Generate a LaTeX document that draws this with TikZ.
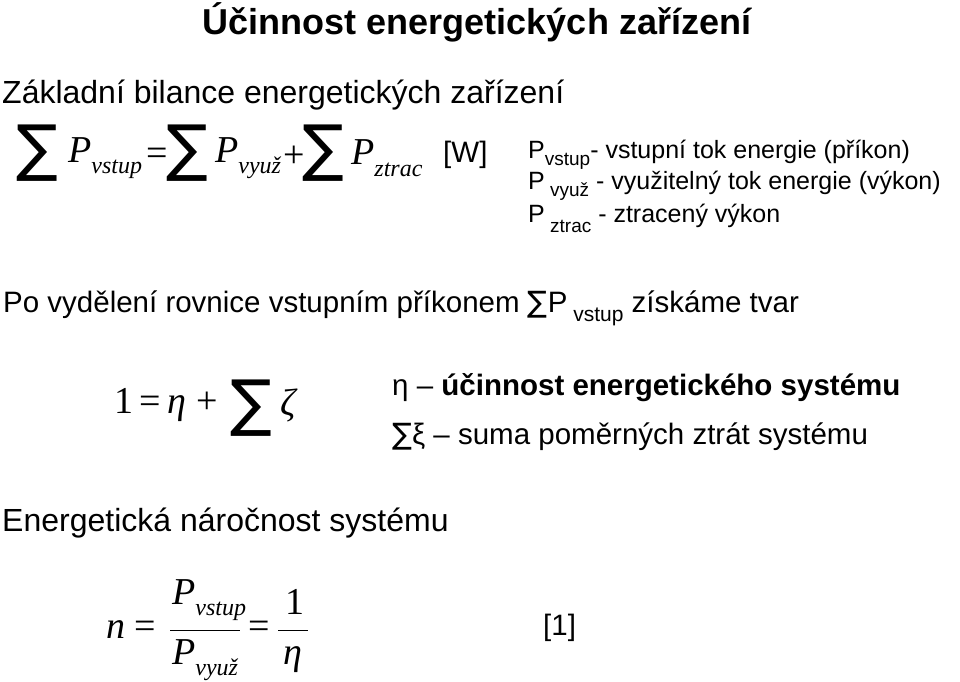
\documentclass[tikz,border=0pt]{standalone}
\usepackage{fontspec}
\setmainfont{Liberation Sans}
\newfontfamily\mathser{Liberation Serif}
\newfontfamily\symf{DejaVu Sans}
\begin{document}
\begin{tikzpicture}[x=1pt,y=-1pt,
  txt/.style={anchor=west,inner sep=0pt,font=\fontsize{29.5}{32}\selectfont},
  rt/.style={anchor=west,inner sep=0pt,font=\fontsize{25}{28}\selectfont},
  hd/.style={anchor=west,inner sep=0pt,font=\fontsize{32}{36}\selectfont},
  frm/.style={anchor=west,inner sep=0pt,font=\mathser\fontsize{38}{42}\selectfont},
  sig/.style={anchor=west,inner sep=0pt,font=\symf\fontsize{62}{66}\selectfont}]
\useasboundingbox (0,0) rectangle (960,681);
\node[inner sep=0pt,font=\bfseries\fontsize{36}{40}\selectfont] (title) at (477,22) {Účinnost energetických zařízení};
\node[hd] (h1) at (2,95) {Základní bilance energetických zařízení};
% formula 1
\node[sig] (s1) at (16,153) {∑};
\node[frm] (p1) at (68,158) {\textit{P}\raisebox{-0.3em}{\fontsize{24}{26}\selectfont\textit{vstup}}};
\node[frm] (eq1) at (146,157) {=};
\node[sig] (s2) at (166,153) {∑};
\node[frm] (p2) at (215,158) {\textit{P}\raisebox{-0.3em}{\fontsize{24}{26}\selectfont\textit{využ}}};
\node[frm] (pl1) at (283,157) {+};
\node[sig] (s3) at (302,153) {∑};
\node[frm] (p3) at (351,158) {\textit{P}\raisebox{-0.3em}{\fontsize{24}{26}\selectfont\textit{ztrac}}};
\node[txt] (w) at (443,155) {[W]};
\node[rt] (d1) at (528,155) {P\raisebox{-0.3em}{\fontsize{19}{22}\selectfont vstup}- vstupní tok energie (příkon)};
\node[rt] (d2) at (528,186) {P\raisebox{-0.3em}{\fontsize{19}{22}\selectfont\ využ} - využitelný tok energie (výkon)};
\node[rt] (d3) at (528,218) {P\raisebox{-0.4em}{\fontsize{19}{22}\selectfont\ ztrac} - ztracený výkon};
\node[txt] (po) at (3,308) {Po vydělení rovnice vstupním příkonem {\symf ∑}P\raisebox{-0.3em}{\fontsize{21}{24}\selectfont\ vstup} získáme tvar};
% formula 2
\node[frm] (one) at (114,405) {1\,=\,\textit{η}\;+};
\node[sig] (s4) at (230,408) {∑};
\node[frm] (zeta) at (280,405) {\textit{ζ}};
\node[txt] (eta) at (392,388) {η – \textbf{účinnost energetického systému}};
\node[txt] (xi) at (392,437) {{\symf ∑}ξ – suma poměrných ztrát systému};
\node[hd] (h2) at (2,523) {Energetická náročnost systému};
% formula 3
\node[frm] (n) at (106,630) {\textit{n} =};
\node[frm] (num) at (172,600) {\textit{P}\raisebox{-0.3em}{\fontsize{24}{26}\selectfont\textit{vstup}}};
\node[frm] (den) at (172,660) {\textit{P}\raisebox{-0.3em}{\fontsize{24}{26}\selectfont\textit{využ}}};
\draw[line width=1pt] (170,630) -- (240,630);
\node[frm] (eq3) at (248,630) {=};
\node[frm] (one2) at (285,602) {1};
\node[frm] (eta2) at (283,660) {\textit{η}};
\draw[line width=1pt] (278,630) -- (308,630);
\node[txt] (ref) at (543,628) {[1]};
\end{tikzpicture}
\end{document}
